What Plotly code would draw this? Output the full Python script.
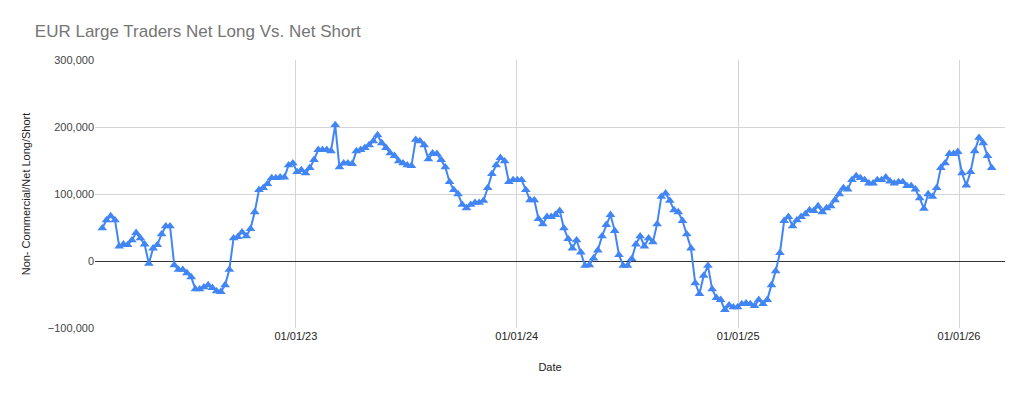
import pandas as pd
import plotly.graph_objects as go

start_date = "2022-02-15"
net_positions = [
    49, 61, 67, 61, 22, 25, 24, 31, 42, 34, 25, -4, 19, 24, 40, 52, 52, -6, -13, -13,
    -18, -24, -42, -42, -39, -36, -40, -45, -46, -36, -13, 34, 36, 43, 37, 48, 73, 106, 109, 115,
    124, 124, 125, 125, 143, 146, 133, 136, 131, 139, 151, 166, 166, 166, 164, 203, 140, 146, 146, 145,
    164, 166, 169, 173, 179, 188, 176, 169, 161, 157, 149, 146, 143, 142, 181, 179, 173, 152, 161, 160,
    151, 140, 118, 106, 100, 84, 79, 84, 87, 87, 90, 109, 130, 143, 154, 149, 118, 121, 121, 121,
    106, 91, 91, 63, 55, 66, 66, 69, 75, 49, 33, 19, 31, 13, -7, -6, 4, 16, 37, 54,
    69, 45, 9, -7, -7, 3, 25, 37, 22, 34, 28, 55, 96, 101, 90, 76, 73, 60, 40, 19,
    -33, -49, -22, -7, -42, -55, -58, -73, -66, -69, -69, -64, -63, -64, -67, -58, -64, -58, -36, -15,
    12, 60, 66, 52, 61, 66, 70, 76, 75, 82, 73, 79, 82, 91, 100, 109, 107, 121, 127, 124,
    121, 116, 116, 121, 121, 125, 119, 116, 118, 118, 112, 112, 107, 94, 78, 100, 96, 109, 139, 146,
    160, 160, 163, 131, 113, 133, 164, 184, 176, 157, 139,
]
net_values = [v * 1000 for v in net_positions]
dates = pd.date_range(start=start_date, periods=len(net_values), freq="7D")

x_ticks = ["2023-01-01", "2024-01-01", "2025-01-01", "2026-01-01"]
y_ticks = [-100000, 0, 100000, 200000, 300000]

fig = go.Figure()
fig.add_trace(go.Scatter(
    x=dates, y=net_values, mode="lines+markers",
    line=dict(color="#4285F4", width=2),
    marker=dict(symbol="triangle-up", size=8.5, color="#4285F4"),
    showlegend=False,
))

fig.update_layout(
    width=1024, height=393,
    margin=dict(l=95, r=19, t=60, b=65),
    paper_bgcolor="white", plot_bgcolor="white",
    font=dict(family="Liberation Sans, Arial, sans-serif", size=11, color="#444444"),
    title=dict(text="EUR Large Traders Net Long Vs. Net Short", x=0.034, xanchor="left",
               y=0.92, yanchor="middle",
               font=dict(family="Liberation Sans, Arial, sans-serif", size=17, color="#757575")),
    xaxis=dict(
        range=["2022-02-03", "2026-03-18"],
        tickvals=x_ticks, tickformat="%m/%d/%y",
        showgrid=True, gridcolor="#d4d4d4", gridwidth=1,
        showline=False, zeroline=False, ticks="",
        title=dict(text="Date", standoff=22, font=dict(size=11, color="#222222")),
        tickfont=dict(size=11, color="#222222"),
    ),
    yaxis=dict(
        range=[-100000, 300000],
        tickvals=y_ticks, tickformat=",",
        showgrid=True, gridcolor="#d4d4d4", gridwidth=1,
        zeroline=True, zerolinecolor="#333333", zerolinewidth=1,
        showline=False, ticks="",
        title=dict(text="Non- Commercial/Net Long/Short", standoff=14, font=dict(size=11, color="#222222")),
        tickfont=dict(size=11, color="#444444"),
    ),
)

fig.write_html("out.html")
